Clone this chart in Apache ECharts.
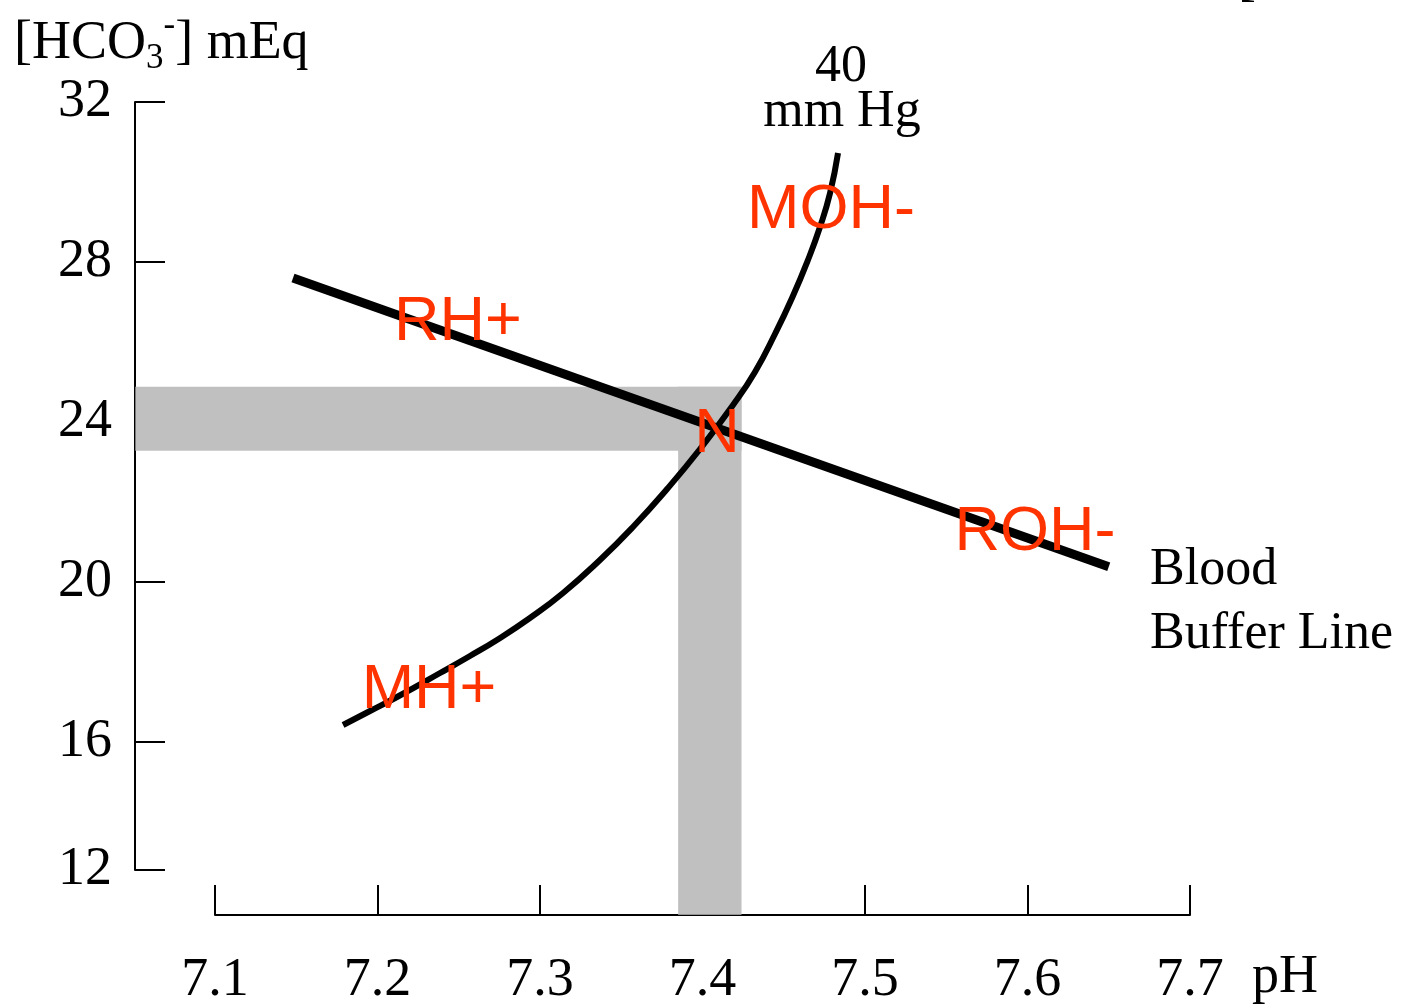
<!DOCTYPE html>
<html>
<head>
<meta charset="utf-8">
<script src="https://cdn.jsdelivr.net/npm/echarts@6/dist/echarts.min.js"></script>
<style>
html,body{margin:0;padding:0;background:#fff;}
#chart{width:1410px;height:1008px;}
</style>
</head>
<body>
<div id="chart"></div>
<script>
// ---- data ----
const yTickValues = [12.8, 16, 20, 24, 28, 32];
const yTickLabels = ['12', '16', '20', '24', '28', '32'];

const bufferPH   = [7.148, 7.65];
const bufferHCO3 = [27.6, 20.38];

const isobarPH   = [7.1788, 7.1954, 7.212, 7.2385, 7.2569, 7.2735, 7.2938, 7.3142, 7.3369, 7.3572, 7.3782, 7.3985, 7.4188, 7.4323, 7.4446, 7.4551, 7.4649, 7.4723, 7.4785, 7.4834];
const isobarHCO3 = [16.425, 16.775, 17.125, 17.725, 18.15, 18.55, 19.1, 19.725, 20.55, 21.375, 22.325, 23.325, 24.425, 25.25, 26.2, 27.1, 28.05, 28.875, 29.725, 30.725];

const bandPHFrom    = [7.051, 7.385];
const bandPHTo      = [7.424, 7.424];
const bandHCO3Low   = [23.28, 11.68];
const bandHCO3High  = [24.88, 24.88];

const annoText = ['MOH-', 'RH+', 'N', 'ROH-', 'MH+', '40', 'mm Hg', 'Blood', 'Buffer Line', 'pH'];
const annoPH   = [7.479, 7.2495, 7.4089, 7.6046, 7.2317, 7.4852, 7.4858, 7.6754, 7.6754, 7.7382];
const annoHCO3 = [29.28, 26.48, 23.68, 21.23, 17.28, 32.86, 31.74, 20.28, 18.7, 10.1];
const annoKind = ['red', 'red', 'red', 'red', 'red', 'black', 'black', 'black', 'black', 'axis'];
const annoAlign = ['center', 'center', 'center', 'center', 'center', 'center', 'center', 'left', 'left', 'left'];

// ---- build ----
const SERIF = "'Liberation Serif', 'Times New Roman', serif";
const SANS = "'Liberation Sans', Arial, sans-serif";
const kindStyle = {
  red: { color: '#ff3300', fontFamily: SANS, fontSize: 63 },
  black: { color: '#000000', fontFamily: SERIF, fontSize: 52 },
  axis: { color: '#000000', fontFamily: SERIF, fontSize: 54 }
};

const bandData = bandPHFrom.map((v, i) => [v, bandPHTo[i], bandHCO3Low[i], bandHCO3High[i]]);
const bufferData = bufferPH.map((v, i) => [v, bufferHCO3[i]]);
const isobarData = isobarPH.map((v, i) => [v, isobarHCO3[i]]);
const annoData = annoText.map((t, i) => ({
  value: [annoPH[i], annoHCO3[i]],
  name: t,
  label: Object.assign({
    show: true,
    formatter: t,
    position: [0, 0],
    align: annoAlign[i],
    verticalAlign: 'middle',
    opacity: 1
  }, kindStyle[annoKind[i]])
}));

const chart = echarts.init(document.getElementById('chart'));
chart.setOption({
  animation: false,
  backgroundColor: '#ffffff',
  title: {
    text: '[HCO{sub|3}{sup|-}] mEq',
    left: 14,
    top: 8,
    padding: 0,
    textStyle: {
      fontFamily: SERIF, fontSize: 54, fontWeight: 'normal', color: '#000',
      rich: {
        sub: { fontFamily: SERIF, fontSize: 35, color: '#000', padding: [30, 0, 0, 0] },
        sup: { fontFamily: SERIF, fontSize: 35, color: '#000', padding: [0, 0, 36, 0] }
      }
    }
  },
  graphic: [{
    type: 'text', left: 1238, top: -46, silent: true, z: 10,
    style: { text: '[', fontSize: 54, fontFamily: SERIF, fill: '#000' }
  }],
  grid: { left: 215, right: 220, top: 102, bottom: 138, containLabel: false },
  xAxis: {
    type: 'value', min: 7.1, max: 7.7, interval: 0.1, offset: 45,
    axisLine: { show: true, onZero: false, lineStyle: { color: '#000', width: 2 } },
    axisTick: { show: true, inside: true, length: 30, lineStyle: { color: '#000', width: 2 } },
    axisLabel: { margin: 39, color: '#000', fontFamily: SERIF, fontSize: 54, formatter: v => v.toFixed(1) },
    splitLine: { show: false }
  },
  yAxis: {
    type: 'value', min: 12.8, max: 32, offset: 80,
    axisLine: { show: true, onZero: false, lineStyle: { color: '#000', width: 2 } },
    axisTick: { show: true, inside: true, length: 30, customValues: yTickValues, lineStyle: { color: '#000', width: 2 } },
    axisLabel: {
      margin: 23, color: '#000', fontFamily: SERIF, fontSize: 54,
      padding: [9, 0, 0, 0],
      customValues: yTickValues,
      formatter: v => { const i = yTickValues.findIndex(t => Math.abs(t - v) < 1e-6); return i >= 0 ? yTickLabels[i] : ''; }
    },
    splitLine: { show: false }
  },
  series: [
    {
      type: 'custom', clip: false, silent: true, z: 1,
      data: bandData,
      encode: { x: [0, 1], y: [2, 3] },
      renderItem: (params, api) => {
        const p0 = api.coord([api.value(0), api.value(3)]);
        const p1 = api.coord([api.value(1), api.value(2)]);
        return { type: 'rect', shape: { x: p0[0], y: p0[1], width: p1[0] - p0[0], height: p1[1] - p0[1] }, style: { fill: '#c0c0c0' } };
      }
    },
    {
      type: 'line', data: bufferData, showSymbol: false, symbol: 'none', silent: true, z: 3,
      lineStyle: { color: '#000', width: 9, cap: 'butt' }
    },
    {
      type: 'line', data: isobarData, smooth: 0.5, showSymbol: false, symbol: 'none', silent: true, z: 3,
      lineStyle: { color: '#000', width: 6, cap: 'butt' }
    },
    {
      type: 'scatter', data: annoData, symbolSize: 0, clip: false, silent: true, z: 5,
      itemStyle: { opacity: 1 }
    }
  ]
});
</script>
</body>
</html>
